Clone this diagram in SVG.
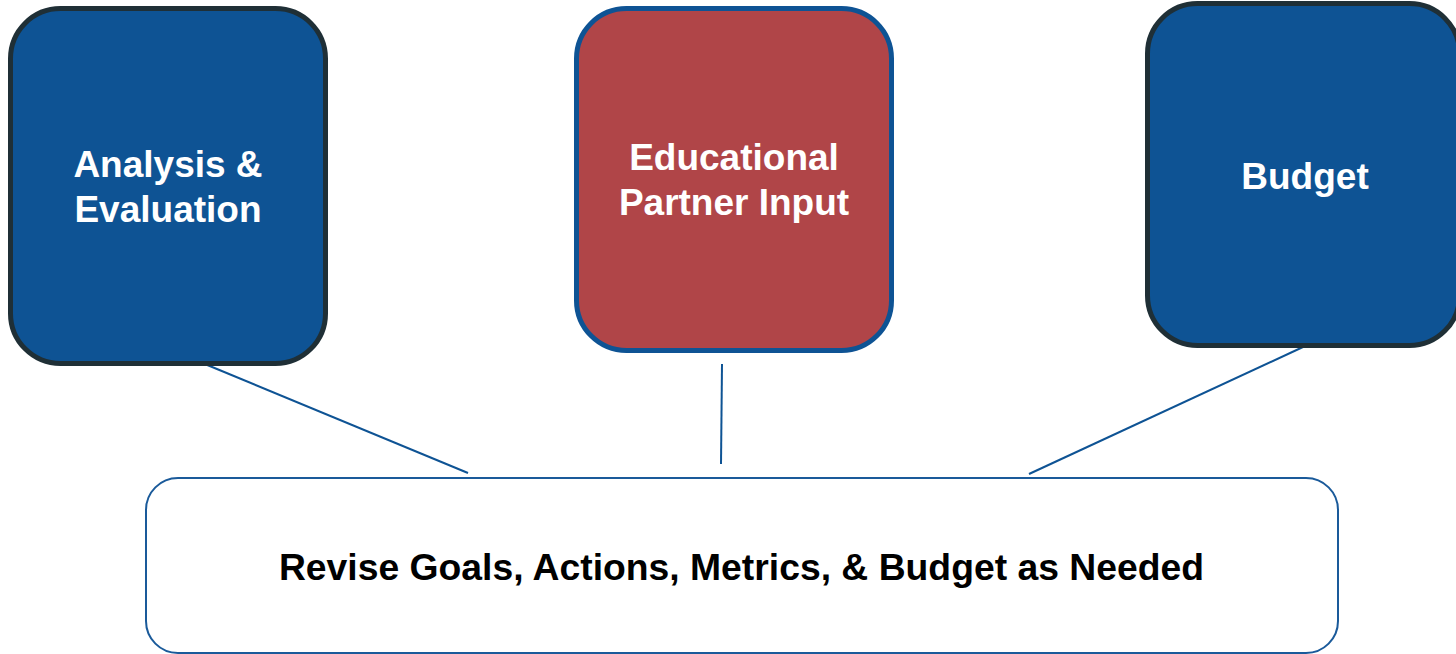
<svg xmlns="http://www.w3.org/2000/svg" width="1456" height="654" viewBox="0 0 1456 654">
<style>
.box{stroke-width:5}
.blue{fill:#0e5394;stroke:#1f2f36}
.red{fill:#b04548;stroke:#0e5394}
.lbl{font-family:"Liberation Sans",Arial,sans-serif;font-weight:bold;font-size:37px;fill:#fff;text-anchor:middle}
.main{font-family:"Liberation Sans",Arial,sans-serif;font-weight:bold;font-size:37.3px;fill:#000;text-anchor:middle}
.conn{stroke:#0e5394;stroke-width:2;fill:none}
</style>
<rect width="1456" height="654" fill="#fff"/>
<g id="connectors">
<line class="conn" x1="200" y1="362" x2="468" y2="473"/>
<line class="conn" x1="722" y1="364" x2="721" y2="464"/>
<line class="conn" x1="1303" y1="347" x2="1029" y2="474"/>
</g>
<g id="analysis">
<rect class="box blue" x="10.5" y="8.5" width="315" height="355" rx="50"/>
<text class="lbl" x="168" y="177">Analysis &amp;</text>
<text class="lbl" x="168" y="222">Evaluation</text>
</g>
<g id="partner">
<rect class="box red" x="576.5" y="8.5" width="315" height="342" rx="50"/>
<text class="lbl" x="734" y="170">Educational</text>
<text class="lbl" x="734" y="215">Partner Input</text>
</g>
<g id="budget">
<rect class="box blue" x="1147.5" y="3.5" width="312" height="342" rx="50"/>
<text class="lbl" x="1305" y="189">Budget</text>
</g>
<g id="revise">
<rect x="146" y="478" width="1192" height="175" rx="32" fill="#fff" stroke="#1a5a9a" stroke-width="2"/>
<text class="main" x="741.5" y="580">Revise Goals, Actions, Metrics, &amp; Budget as Needed</text>
</g>
</svg>
